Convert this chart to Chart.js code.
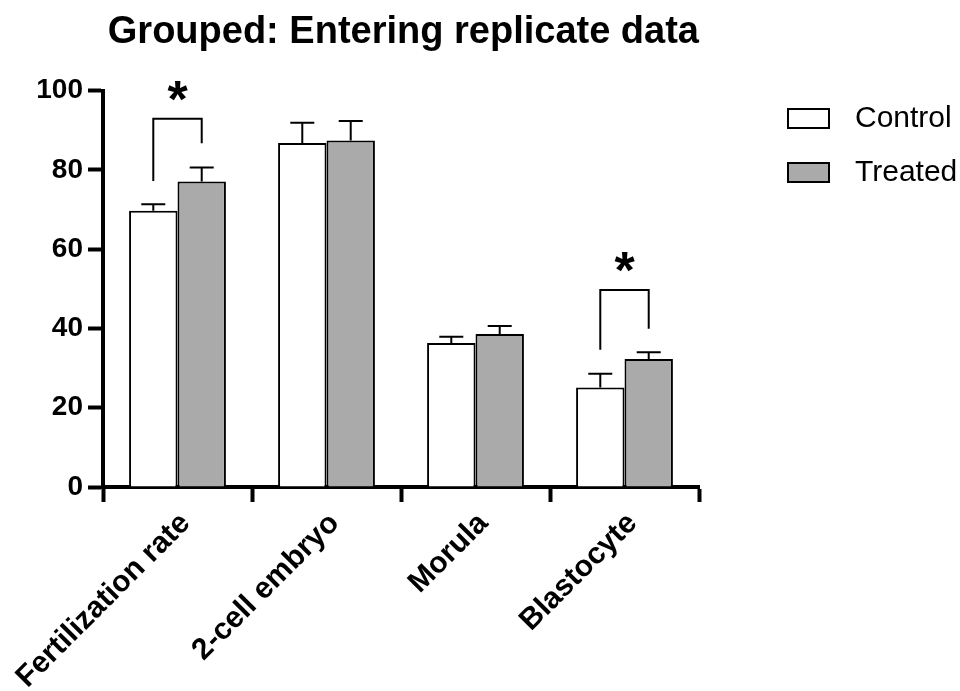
<!DOCTYPE html>
<html>
<head>
<meta charset="utf-8">
<script src="https://cdn.jsdelivr.net/npm/chart.js@4"></script>
<style>
  body { margin: 0; background: #fff; }
  canvas { display: block; }
</style>
</head>
<body>
<canvas id="chart" width="960" height="691"></canvas>
<script>
// Data
const categories = ['Fertilization rate', '2-cell embryo', 'Morula', 'Blastocyte'];
const controlMeans = [69.7, 86.8, 36.3, 25.1];
const controlErr = [1.6, 5.1, 1.6, 3.5];
const treatedMeans = [77.1, 87.4, 38.6, 32.3];
const treatedErr = [3.5, 4.9, 2.0, 1.7];
const yTicks = [0, 20, 40, 60, 80, 100];

// significance brackets (category index, bracket top, leg ends, star position)
const sigIndex = [0, 3];
const sigTop = [92.9, 49.7];
const sigLeftEnd = [77.2, 34.6];
const sigRightEnd = [86.7, 39.9];
const sigStarY = [99.5, 56.4];

const FONT = '"Liberation Sans", Arial, Helvetica, sans-serif';
const errors = [controlErr, treatedErr];

// error bars + brackets + legend
const extras = {
    id: 'extras',
    afterDatasetsDraw(chart) {
        const c = chart.ctx;
        const y = chart.scales.y;
        c.save();
        c.strokeStyle = '#000';
        c.lineWidth = 2;
        chart.data.datasets.forEach((ds, di) => {
            chart.getDatasetMeta(di).data.forEach((bar, i) => {
                const top = y.getPixelForValue(ds.data[i] + errors[di][i]);
                c.beginPath();
                c.moveTo(bar.x, bar.y);
                c.lineTo(bar.x, top);
                c.moveTo(bar.x - 12, top);
                c.lineTo(bar.x + 12, top);
                c.stroke();
            });
        });

        // brackets
        sigIndex.forEach((idx, k) => {
            const left = chart.getDatasetMeta(0).data[idx].x;
            const right = chart.getDatasetMeta(1).data[idx].x;
            const topY = y.getPixelForValue(sigTop[k]);
            c.beginPath();
            c.moveTo(left, y.getPixelForValue(sigLeftEnd[k]));
            c.lineTo(left, topY);
            c.lineTo(right, topY);
            c.lineTo(right, y.getPixelForValue(sigRightEnd[k]));
            c.stroke();
            c.fillStyle = '#000';
            c.font = 'bold 52px ' + FONT;
            c.textAlign = 'center';
            c.textBaseline = 'middle';
            c.fillText('*', (left + right) / 2, y.getPixelForValue(sigStarY[k]) + 10);
        });
        c.restore();
    },
    afterDraw(chart) {
        const c = chart.ctx;
        c.save();
        chart.data.datasets.forEach((ds, di) => {
            const by = 109 + di * 54;
            c.fillStyle = ds.backgroundColor;
            c.fillRect(788, by, 41, 19);
            c.strokeStyle = '#000';
            c.lineWidth = 2;
            c.strokeRect(788, by, 41, 19);
            c.fillStyle = '#000';
            c.font = '30px ' + FONT;
            c.textAlign = 'left';
            c.textBaseline = 'middle';
            c.fillText(ds.label, 855, by + 10);
        });
        c.restore();
    }
};

new Chart(document.getElementById('chart'), {
    type: 'bar',
    data: {
        labels: categories,
        datasets: [
            {
                label: 'Control',
                data: controlMeans,
                backgroundColor: '#ffffff',
                borderColor: '#000000',
                borderWidth: 2
            },
            {
                label: 'Treated',
                data: treatedMeans,
                backgroundColor: '#aaaaaa',
                borderColor: '#000000',
                borderWidth: 2
            }
        ]
    },
    options: {
        responsive: false,
        animation: false,
        datasets: {
            bar: { categoryPercentage: 0.65, barPercentage: 1.0 }
        },
        layout: { padding: { left: 0, top: 0, right: 261, bottom: 0 } },
        plugins: {
            legend: { display: false },
            tooltip: { enabled: false },
            title: {
                display: true,
                text: 'Grouped: Entering replicate data',
                align: 'end',
                color: '#000',
                font: { family: FONT, size: 38, weight: 'bold', lineHeight: 1.2 },
                padding: { top: 10, bottom: 35 }
            }
        },
        scales: {
            x: {
                border: { display: true, color: '#000', width: 4 },
                grid: { display: true, drawOnChartArea: false, drawTicks: true, tickLength: 15, tickWidth: 4, tickColor: '#000' },
                ticks: {
                    color: '#000',
                    autoSkip: false,
                    minRotation: 45,
                    maxRotation: 45,
                    padding: 4,
                    labelOffset: 8,
                    font: { family: FONT, size: 30, weight: 'bold' }
                },
                afterFit(scale) {
                    scale.height = 204;
                    scale.paddingLeft = 0;
                    scale.paddingRight = 0;
                }
            },
            y: {
                min: 0,
                max: 100,
                border: { display: true, color: '#000', width: 4 },
                grid: { display: true, drawOnChartArea: false, drawTicks: true, tickLength: 15, tickWidth: 4, tickColor: '#000' },
                afterBuildTicks(scale) {
                    scale.ticks = yTicks.map(v => ({ value: v }));
                },
                ticks: {
                    color: '#000',
                    padding: 5,
                    font: { family: FONT, size: 28, weight: 'bold' }
                },
                afterFit(scale) {
                    scale.width = 103;
                }
            }
        }
    },
    plugins: [extras]
});
</script>
</body>
</html>
